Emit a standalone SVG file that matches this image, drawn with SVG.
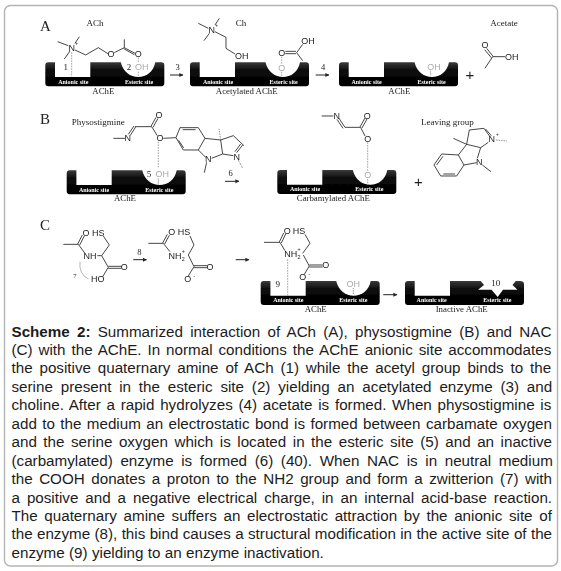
<svg xmlns="http://www.w3.org/2000/svg" width="561" height="571" viewBox="0 0 561 571">
<style>
.b{fill:none;stroke:#2a2a2a;stroke-width:2.6}
.d{fill:none;stroke:#999;stroke-width:2.6;stroke-dasharray:5 3}
.t{fill:none;stroke:#333;stroke-width:2.4;stroke-dasharray:2 3}
.l{fill:none;stroke:#aaa;stroke-width:2.6}
.a{font:27px "Liberation Sans",Arial,sans-serif;fill:#222;text-anchor:middle;dominant-baseline:central}
.g{font:27px "Liberation Sans",Arial,sans-serif;fill:#aaa;text-anchor:middle;dominant-baseline:central}
.n{font:27px "Liberation Serif","Times New Roman",serif;fill:#222;text-anchor:middle;dominant-baseline:central}
.s{font:8.8px "Liberation Serif","Times New Roman",serif;fill:#222;text-anchor:middle}
.w{font:bold 6px "Liberation Serif","Times New Roman",serif;fill:#fff;text-anchor:middle}
.h{font:15px "Liberation Serif","Times New Roman",serif;fill:#222}
.c{font:15.2px "Liberation Sans",Arial,sans-serif;fill:#1c1c1c}
.cb{font-weight:bold}
.ar{stroke:#222;stroke-width:1;fill:none;marker-end:url(#head)}
.m{font:8.5px "Liberation Serif","Times New Roman",serif;fill:#222;text-anchor:middle}
.p{font:15px "Liberation Sans",Arial,sans-serif;fill:#222;text-anchor:middle}
</style>
<defs>
<filter id="soft" x="0" y="0" width="100%" height="100%"><feGaussianBlur stdDeviation="0.3"/></filter>
<linearGradient id="grad" x1="0" y1="0" x2="0" y2="1"><stop offset="0" stop-color="#3a3a3a"/><stop offset=".35" stop-color="#0a0a0a"/><stop offset="1" stop-color="#000"/></linearGradient>
<path id="body" fill="url(#grad)" d="M3,0H9.7V14.7H45V0H75.5C78,10 85,14.7 93,14.7C101,14.7 108,10 110,0H116Q119,0 119,3V21Q119,24 116,24H3Q0,24 0,21V3Q0,0 3,0Z"/>
<path id="body2" fill="url(#grad)" d="M3,0H9.7V14.7H45V0H75.7L79,4 73,8.7H86.5L92.7,16 98,8.7H112.5L107.5,4 110.7,0H115Q119,0 119,3V21Q119,24 116,24H3Q0,24 0,21V3Q0,0 3,0Z"/>
<marker id="head" markerWidth="5" markerHeight="5" refX="3.6" refY="2" orient="auto" markerUnits="userSpaceOnUse"><path d="M0,0L4,2L0,4Z" fill="#222"/></marker>
</defs>
<rect width="561" height="571" fill="#fff"/>
<rect id="frame" x="4.5" y="5.5" width="553" height="560.5" rx="6" fill="#fff" stroke="#b4b4b4" stroke-width="1.4"/>

<g id="figure" filter="url(#soft)">
<text class="h" x="40" y="31">A</text>
<text class="h" x="40" y="124">B</text>
<text class="h" x="40" y="230">C</text>

<g id="enzyme-a1"><use href="#body" x="45.3" y="62.3"/><text class="w" x="73.3" y="83.5">Anionic site</text><text class="w" x="139" y="83.5">Esteric site</text><text class="s" x="103.3" y="93.5">AChE</text></g>
<g id="enzyme-a2"><use href="#body" x="190" y="62.3"/><text class="w" x="218" y="83.5">Anionic site</text><text class="w" x="283.7" y="83.5">Esteric site</text><text class="s" x="246.7" y="93.5">Acetylated AChE</text></g>
<g id="enzyme-a3"><use href="#body" x="339" y="62.3"/><text class="w" x="366.5" y="83.5">Anionic site</text><text class="w" x="431.5" y="83.5">Esteric site</text><text class="s" x="399.3" y="93.5">AChE</text></g>
<g id="enzyme-b1"><use href="#body" x="66.7" y="170.3"/><text class="w" x="94" y="191.5">Anionic site</text><text class="w" x="159.3" y="191.5">Esteric site</text><text class="s" x="125" y="200.8">AChE</text></g>
<g id="enzyme-b2"><use href="#body" x="277.3" y="170"/><text class="w" x="305" y="191.4">Anionic site</text><text class="w" x="369.3" y="191.4">Esteric site</text><text class="s" x="333.3" y="201">Carbamylated AChE</text></g>
<g id="enzyme-c1"><use href="#body" x="260.7" y="281"/><text class="w" x="288.3" y="302.4">Anionic site</text><text class="w" x="353.3" y="302.4">Esteric site</text><text class="s" x="315.7" y="311.8">AChE</text></g>
<g id="enzyme-c2"><use href="#body2" x="405" y="281"/><text class="w" x="431.7" y="302.4">Anionic site</text><text class="w" x="497.3" y="302.4">Esteric site</text><text class="s" x="461.7" y="311.8">Inactive AChE</text></g>

<g id="connectors">
<path class="ar" d="M170,75H183"/>
<path class="ar" d="M315.7,75H329"/>
<path class="ar" d="M225,181.3H239"/>
<path class="ar" d="M133.3,259.7H146.5"/>
<path class="ar" d="M235.7,259.7H249"/>
<path class="ar" d="M383.3,294.7H397"/>
<g transform="translate(20 210) scale(.3333)"><path class="l" d="M180,155Q176,192 205,207"/></g>
<g transform="translate(20 5) scale(.3333)">
<path class="d" d="M155,142V215"/>
</g>
<g transform="translate(20 105) scale(.3333)"><path class="d" d="M415,110V190"/></g>
<g transform="translate(270 105) scale(.3333)"><path class="d" d="M293,112V200"/></g>
<g transform="translate(250 210) scale(.3333)"><path class="d" d="M113,148V258"/></g>
</g>

<text class="m" x="177.7" y="70">3</text>
<text class="m" x="323" y="70">4</text>
<text class="m" x="230.7" y="175.5">6</text>
<text class="m" x="139.3" y="254.5">8</text>

<g id="mol-ach" transform="translate(20 5) scale(.3333)">
<text class="n" x="225" y="55">ACh</text>
<path class="b" d="M113,110L145,122M133,162L150,138M165,115L178,95M165,135L197,150L235,128L265,147M283,143L313,128L345,145M311,131L343,149M313,128V103"/>
<text class="a" x="155" y="128">N</text><text class="a" x="170" y="115" style="font-size:14px">+</text>
<text class="a" x="273" y="148">O</text><text class="a" x="355" y="148">O</text>
<text class="n" x="137" y="187">1</text><text class="n" x="327" y="187">2</text>
<text class="g" x="365" y="187">OH</text>
<path class="d" d="M355,158V174M355,200V215"/>
</g>
<g id="mol-choline" transform="translate(20 5) scale(.3333)">
<text class="n" x="663" y="55">Ch</text>
<path class="b" d="M535,55L565,70M552,107L568,85M585,60L598,40M585,80L618,97V130L645,147"/>
<text class="a" x="575" y="75">N</text><text class="a" x="590" y="62" style="font-size:14px">+</text>
<text class="a" x="665" y="153">OH</text>
</g>
<g id="mol-acetyl" transform="translate(280 5) scale(.3333)">
<text class="a" x="5" y="143">O</text>
<path class="b" d="M16,139H48M16,146H48M50,143L68,118M50,143L68,167"/>
<text class="a" x="84" y="108">OH</text>
<path class="d" d="M5,155V176M5,200V216"/>
<text class="g" x="5" y="188">O</text>
</g>
<g id="site-a3" transform="translate(280 5) scale(.3333)">
<text class="g" x="462" y="185">OH</text><path class="l" d="M452,197V212"/>
</g>
<g id="mol-acetate" transform="translate(280 5) scale(.3333)">
<text class="n" x="672" y="55">Acetate</text>
<path class="b" d="M620,130L640,155M614,134L634,158M638,155H675M638,155L615,190"/>
<text class="a" x="615" y="120">O</text><text class="a" x="695" y="155">OH</text>
</g>
<text class="p" x="470" y="79.5">+</text>

<g id="mol-physostigmine" transform="translate(20 105) scale(.3333)">
<text class="n" x="235" y="52">Physostigmine</text>
<path class="b" d="M280,100H315M325,88L342,63M331,91L347,66M345,65H395M393,64L408,37M399,67L414,40M395,65L412,92M430,100L468,98L480,68H535L555,100L535,135H490L468,98M488,74H527M476,106L491,129M555,100L602,105L608,147L575,160M535,135L558,158M602,105L640,92L672,122M668,120L650,143M662,117L645,140M608,147L640,152M560,172L553,203"/>
<path class="t" d="M602,105L597,70M655,165L668,190"/>
<text class="a" x="323" y="99">N</text><text class="a" x="417" y="30">O</text><text class="a" x="420" y="100">O</text><text class="a" x="565" y="163">N</text><text class="a" x="650" y="155">N</text>
<text class="n" x="387" y="207">5</text><text class="g" x="427" y="207">OH</text><path class="l" d="M415,220V240"/>
</g>
<g id="mol-carbamyl" transform="translate(270 105) scale(.3333)">
<path class="b" d="M155,33H190M207,40L225,67M201,43L219,70M225,67H272M270,66L285,39M276,69L291,42M272,67L285,93"/>
<text class="a" x="200" y="33">N</text><text class="a" x="292" y="33">O</text><text class="a" x="293" y="101">O</text>
<text class="g" x="293" y="210">O</text><path class="d" d="M293,222V240"/>
</g>
<g id="mol-leaving" transform="translate(270 105) scale(.3333)">
<text class="n" x="532" y="52">Leaving group</text>
<path class="b" d="M565,150L515,147L492,180L512,213H560L582,180L565,150M519,154L500,180M520,207H555M582,180L620,173M565,150L590,118L598,75L642,70L660,95M647,72L664,92M590,118L632,128L622,160M632,128L655,112M590,118L550,100M637,180L663,200"/>
<path class="t" d="M678,105L710,108"/>
<text class="a" x="628" y="172">N</text><text class="a" x="665" y="103">N</text><text class="a" x="682" y="90" style="font-size:14px">+</text>
</g>
<text class="p" x="418.3" y="186.5">+</text>

<g id="mol-nac" transform="translate(20 210) scale(.3333)">
<path class="b" d="M130,103H175M173,102L187,75M179,105L193,78M175,103L195,130M232,137H245M245,137L268,105L250,78M245,137L265,172M265,169H305M265,175H305M265,172L248,200"/>
<text class="a" x="198" y="68">O</text><text class="a" x="235" y="68">HS</text><text class="a" x="210" y="137">NH</text><text class="a" x="313" y="172">O</text><text class="a" x="233" y="207">HO</text>
<text class="n" x="165" y="198" style="font-size:20px">7</text>
</g>
<g id="mol-zwitterion" transform="translate(20 210) scale(.3333)">
<path class="b" d="M385,100H430M428,99L442,73M434,102L448,76M430,100L450,125M505,135L522,105L510,78M505,135L522,170M522,167H562M522,173H562M522,170L505,198"/>
<text class="a" x="455" y="67">O</text><text class="a" x="492" y="67">HS</text><text class="a" x="465" y="137">NH</text><text class="a" x="490" y="146" style="font-size:16px">2</text><text class="a" x="490" y="122" style="font-size:16px">+</text><text class="a" x="570" y="170">O</text><text class="a" x="503" y="206">O</text><text class="a" x="523" y="198" style="font-size:16px">-</text>
</g>
<g id="mol-bound" transform="translate(250 210) scale(.3333)">
<path class="b" d="M42,97H90M88,96L101,69M94,99L107,72M90,97L105,122M158,130L180,100L165,73M160,135L178,168M178,165H218M178,171H218M178,168L163,193"/>
<text class="a" x="112" y="62">O</text><text class="a" x="147" y="62">HS</text><text class="a" x="122" y="132">NH</text><text class="a" x="147" y="141" style="font-size:16px">2</text><text class="a" x="147" y="118" style="font-size:16px">+</text><text class="a" x="227" y="166">O</text><text class="a" x="158" y="201">O</text><text class="a" x="178" y="192" style="font-size:16px">-</text>
<text class="n" x="83" y="222">9</text><text class="g" x="310" y="222">OH</text><path class="t" d="M310,235V255"/>
<text class="n" x="737" y="220">10</text>
</g>
</g>

<g id="caption">
<text class="c" x="11.5" y="336.5" word-spacing="3"><tspan class="cb">Scheme 2:</tspan> Summarized interaction of ACh (A), physostigmine (B) and NAC</text>
<text class="c" x="11.5" y="355" word-spacing="1.72">(C) with the AChE. In normal conditions the AChE anionic site accommodates</text>
<text class="c" x="11.5" y="373.4" word-spacing="2.61">the positive quaternary amine of ACh (1) while the acetyl group binds to the</text>
<text class="c" x="11.5" y="391.8" word-spacing="3.62">serine present in the esteric site (2) yielding an acetylated enzyme (3) and</text>
<text class="c" x="11.5" y="410.3" word-spacing="1.49">choline. After a rapid hydrolyzes (4) acetate is formed. When physostigmine is</text>
<text class="c" x="11.5" y="428.7" word-spacing="1.17">add to the medium an electrostatic bond is formed between carbamate oxygen</text>
<text class="c" x="11.5" y="447.2" word-spacing="2.31">and the serine oxygen which is located in the esteric site (5) and an inactive</text>
<text class="c" x="11.5" y="465.6" word-spacing="3.4">(carbamylated) enzyme is formed (6) (40). When NAC is in neutral medium</text>
<text class="c" x="11.5" y="484" word-spacing="2.31">the COOH donates a proton to the NH2 group and form a zwitterion (7) with</text>
<text class="c" x="11.5" y="502.5" word-spacing="2.71">a positive and a negative electrical charge, in an internal acid-base reaction.</text>
<text class="c" x="11.5" y="520.9" word-spacing="2.41">The quaternary amine suffers an electrostatic attraction by the anionic site of</text>
<text class="c" x="11.5" y="539.3" word-spacing="0.14">the enzyme (8), this bind causes a structural modification in the active site of the</text>
<text class="c" x="11.5" y="557.8" word-spacing="0.14">enzyme (9) yielding to an enzyme inactivation.</text>
</g>
</svg>
